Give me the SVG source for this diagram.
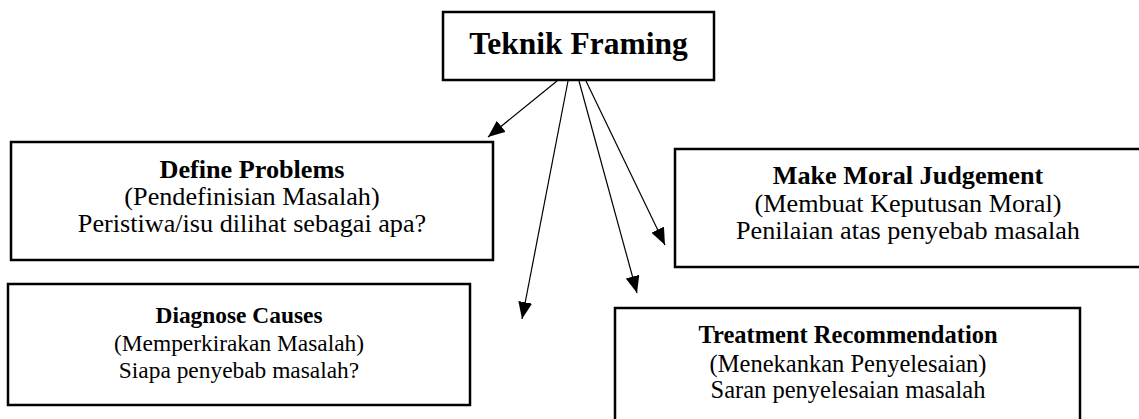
<svg xmlns="http://www.w3.org/2000/svg" width="1139" height="419" viewBox="0 0 1139 419">
<style>
.box{fill:#fff;stroke:#000;stroke-width:2.5}
text{font-family:'Liberation Serif','Times New Roman',Times,serif;fill:#000;text-anchor:middle}
.t1{font-size:26.2px}
.t2{font-size:23.4px}
.t3{font-size:24.5px}
.b{font-weight:bold}
.title{font-size:31.5px;font-weight:bold}
.c{stroke:#000;stroke-width:1.2;fill:none;marker-end:url(#ah)}
</style>
<defs>
<marker id="ah" markerUnits="userSpaceOnUse" markerWidth="18" markerHeight="14" refX="17" refY="7" orient="auto">
<polygon points="0,0 17,7 0,14" fill="#000"/>
</marker>
</defs>
<rect width="1139" height="419" fill="#fff"/>
<g id="connectors">
<line class="c" x1="557" y1="81" x2="488" y2="137"/>
<line class="c" x1="568" y1="81" x2="522" y2="319"/>
<line class="c" x1="579" y1="81" x2="637" y2="293"/>
<line class="c" x1="586" y1="81" x2="665" y2="245"/>
</g>
<g id="teknik-framing">
<rect class="box" x="443" y="12" width="271" height="68"/>
<text class="title" x="578.5" y="54">Teknik Framing</text>
</g>
<g id="define-problems">
<rect class="box" x="11" y="142" width="482" height="118"/>
<text class="t1 b" x="252" y="178">Define Problems</text>
<text class="t1" x="252" y="205">(Pendefinisian Masalah)</text>
<text class="t1" x="252" y="232">Peristiwa/isu dilihat sebagai apa?</text>
</g>
<g id="diagnose-causes">
<rect class="box" x="8" y="284" width="462" height="121"/>
<text class="t2 b" x="239" y="323">Diagnose Causes</text>
<text class="t2" x="239" y="351">(Memperkirakan Masalah)</text>
<text class="t2" x="239" y="378">Siapa penyebab masalah?</text>
</g>
<g id="moral-judgement">
<rect class="box" x="675" y="149" width="466" height="118"/>
<text class="t1 b" x="908" y="184">Make Moral Judgement</text>
<text class="t1" x="908" y="212">(Membuat Keputusan Moral)</text>
<text class="t1" x="908" y="239">Penilaian atas penyebab masalah</text>
</g>
<g id="treatment-recommendation">
<rect class="box" x="615" y="308" width="465" height="120"/>
<text class="t3 b" x="848" y="343">Treatment Recommendation</text>
<text class="t3" x="848" y="372">(Menekankan Penyelesaian)</text>
<text class="t3" x="848" y="398">Saran penyelesaian masalah</text>
</g>
</svg>
